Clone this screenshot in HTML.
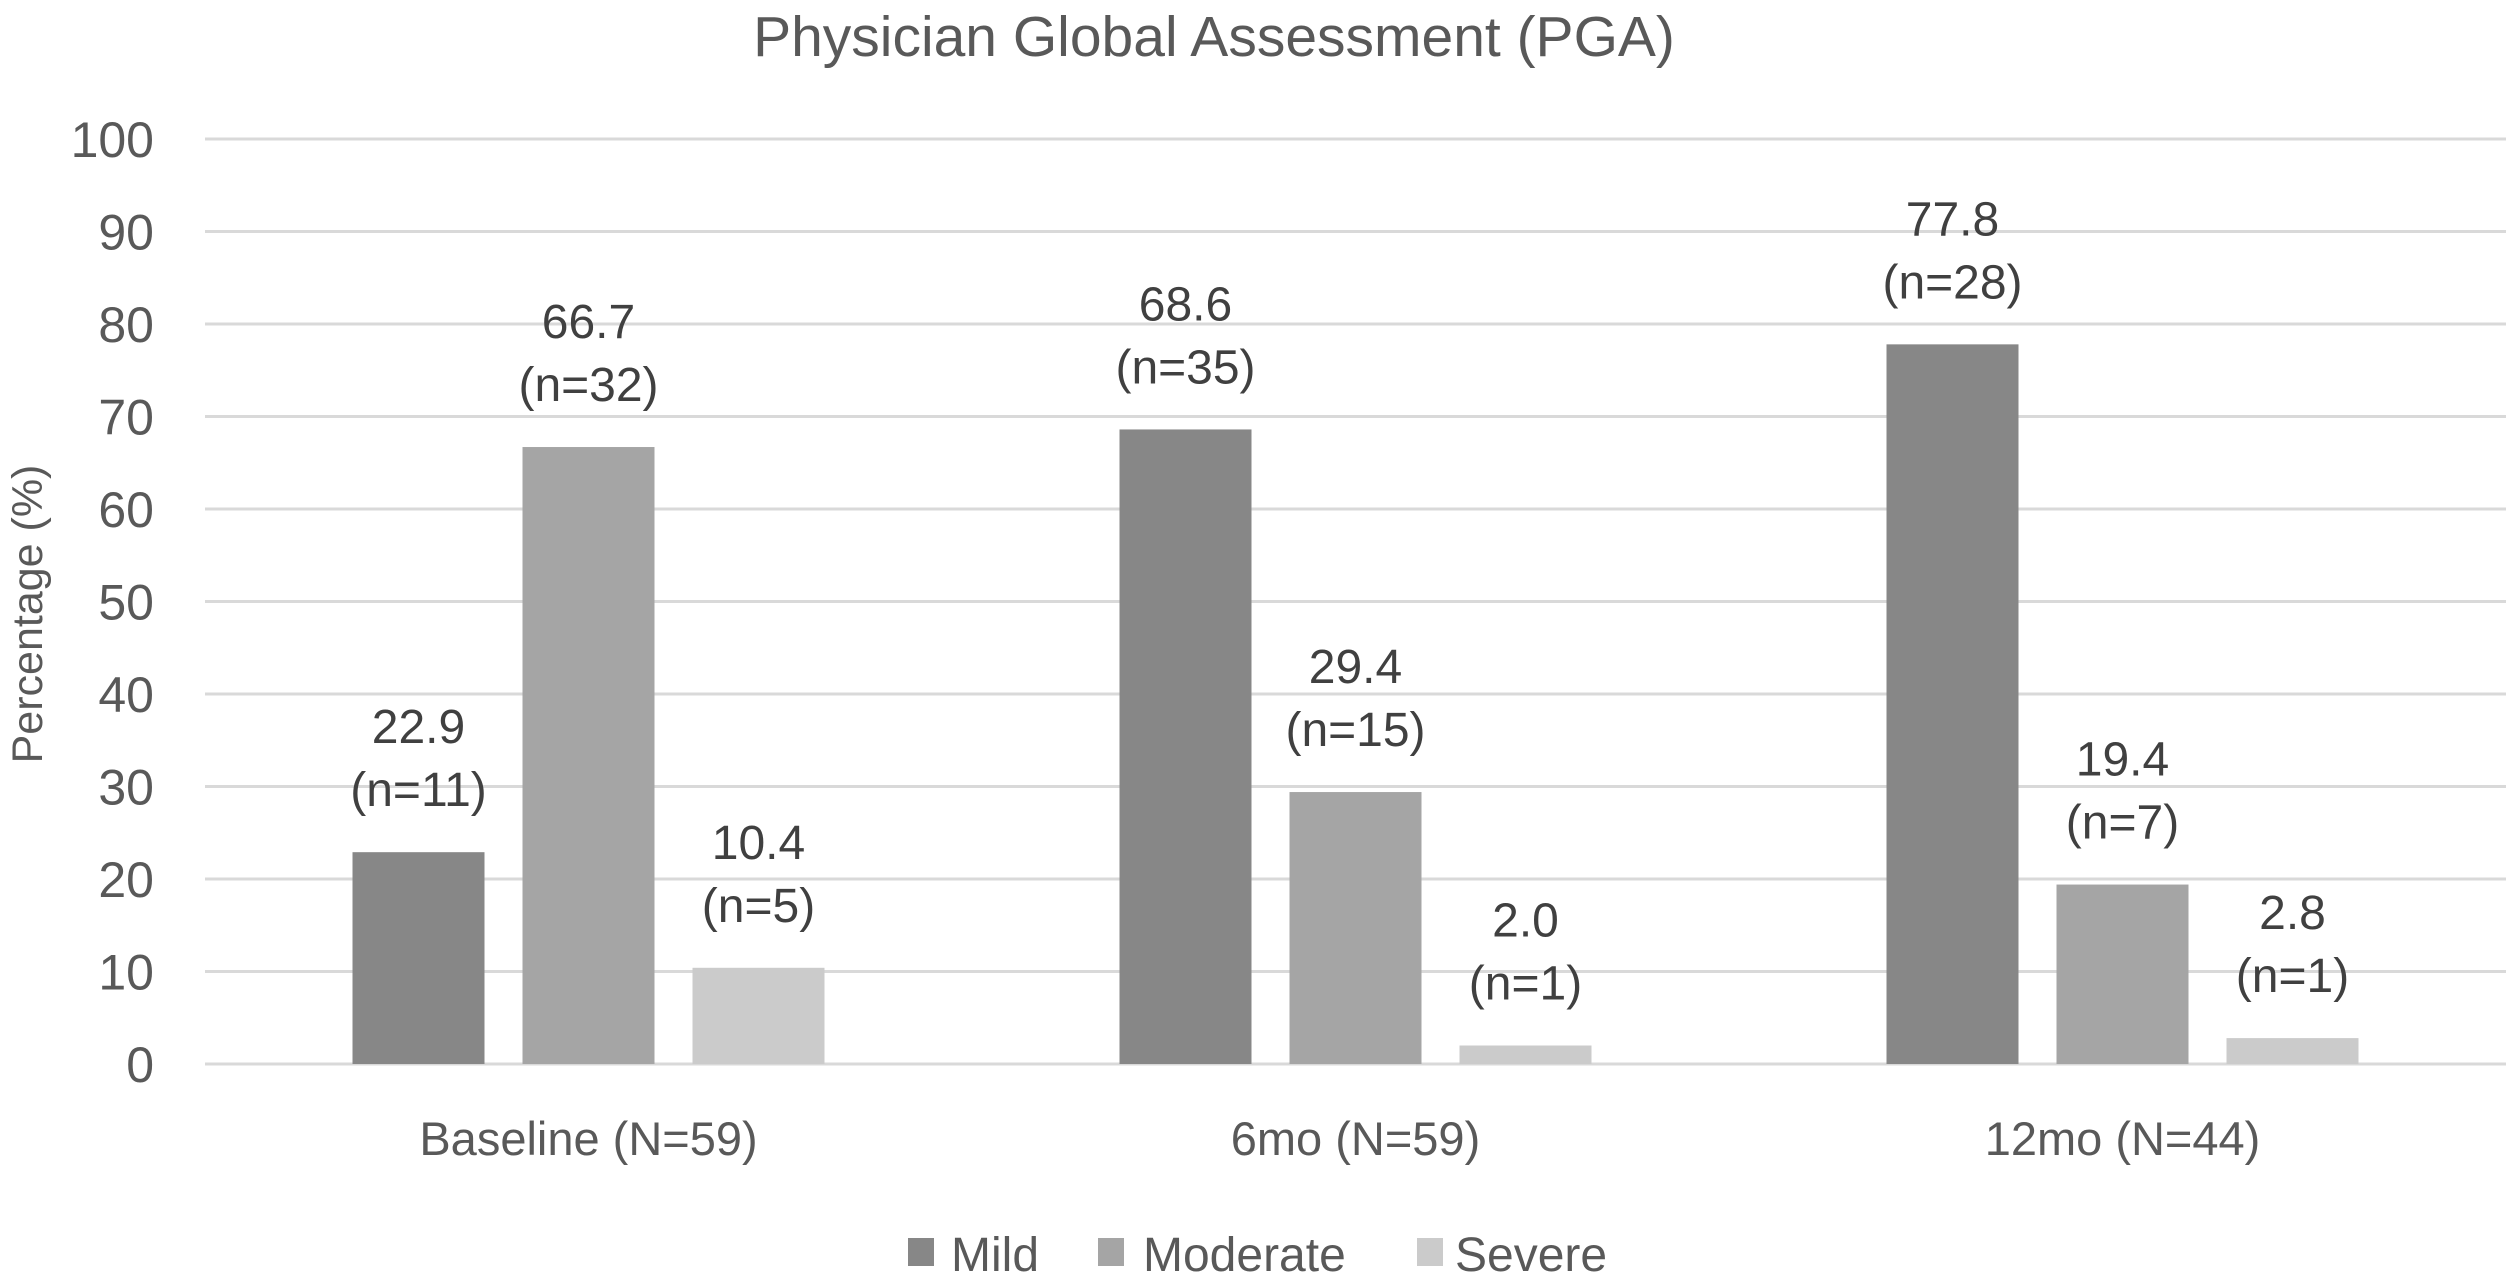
<!DOCTYPE html>
<html><head><meta charset="utf-8"><style>
html,body{margin:0;padding:0;background:#fff;}
svg{display:block;font-family:"Liberation Sans",sans-serif;}
</style></head><body>
<svg id="chart" width="2506" height="1273" viewBox="0 0 2506 1273">
<text x="1214" y="56" text-anchor="middle" font-size="57" fill="#595959">Physician Global Assessment (PGA)</text>
<text transform="translate(42,614) rotate(-90)" text-anchor="middle" font-size="43" fill="#595959">Percentage (%)</text>
<g id="grid"></g><g id="bars"></g><g id="labels"></g>
<g>
<rect x="908" y="1238" width="26" height="28" fill="#878787"/>
<text x="951" y="1271" font-size="48" fill="#595959">Mild</text>
<rect x="1098" y="1238" width="26" height="28" fill="#a5a5a5"/>
<text x="1143" y="1271" font-size="48" fill="#595959">Moderate</text>
<rect x="1417" y="1238" width="26" height="28" fill="#cbcbcb"/>
<text x="1455" y="1271" font-size="48" fill="#595959">Severe</text>
</g>
</svg>
<script>
const categories=["Baseline (N=59)","6mo (N=59)","12mo (N=44)"];
const mild=[22.9,68.6,77.8];
const moderate=[66.7,29.4,19.4];
const severe=[10.4,2.0,2.8];
const mildN=[11,35,28];
const moderateN=[32,15,7];
const severeN=[5,1,1];
const yTicks=[0,10,20,30,40,50,60,70,80,90,100];
const seriesNames=["mild","moderate","severe"];
const NS="http://www.w3.org/2000/svg";
const L=205,R=2506,T=139,B=1064;
const y=v=>B-(B-T)*v/100;
const groupW=(R-L)/categories.length;
const xc=i=>L+groupW*(i+0.5);
const grid=document.getElementById('grid'),bars=document.getElementById('bars'),labs=document.getElementById('labels');
function mk(tag,attrs,parent,txt){const e=document.createElementNS(NS,tag);for(const k in attrs)e.setAttribute(k,attrs[k]);if(txt!==undefined)e.textContent=txt;parent.appendChild(e);return e;}
yTicks.forEach(t=>{
 const ln=mk('line',{x1:L,x2:R,y1:y(t),y2:y(t),stroke:'#d9d9d9','stroke-width':3},grid);
 
 
 const tx=mk('text',{x:154,y:y(t)+18,'text-anchor':'end','font-size':50,fill:'#595959'},grid,String(t));
 
 
});
const series=[mild,moderate,severe],ns=[mildN,moderateN,severeN],cols=['#878787','#a5a5a5','#cbcbcb'];
const bw=132,step=170;
categories.forEach((c,i)=>{
 const ct=mk('text',{x:xc(i),y:1155,'text-anchor':'middle','font-size':47,fill:'#595959'},labs,c);
 
 
 series.forEach((s,j)=>{
  const cx=xc(i)+(j-1)*step;const top=y(s[i]);
  const r=mk('rect',{x:cx-bw/2,y:top,width:bw,height:B-top,fill:cols[j]},bars);
  
  
  const v=mk('text',{x:cx,y:top-109,'text-anchor':'middle','font-size':48,fill:'#404040'},labs,s[i].toFixed(1));
  
  
  const n=mk('text',{x:cx,y:top-46,'text-anchor':'middle','font-size':48,fill:'#404040'},labs,'(n='+ns[j][i]+')');
  
  
 });
});
</script>
</body></html>
